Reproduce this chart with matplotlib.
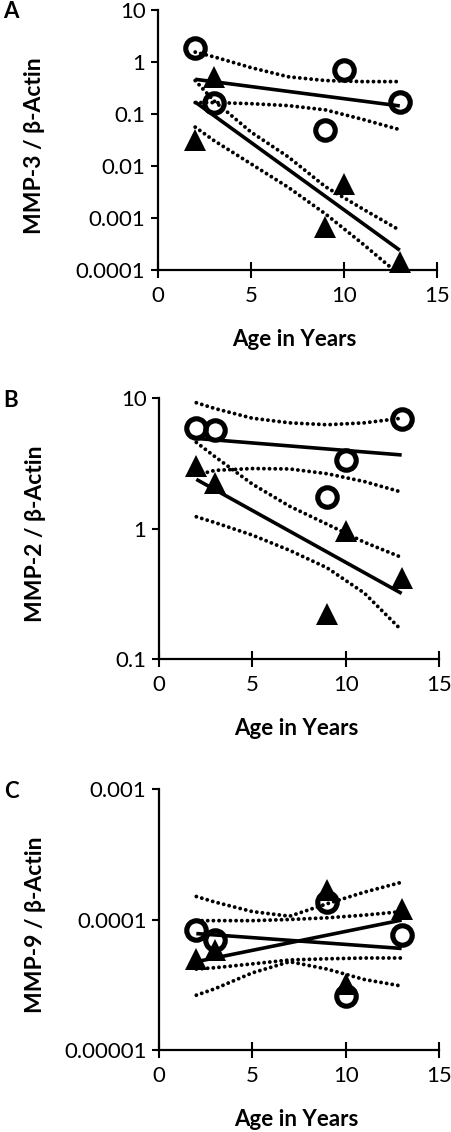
import matplotlib
matplotlib.use('Agg')
import matplotlib.pyplot as plt
import numpy as np

plt.rcParams['font.family'] = ['Lato', 'DejaVu Sans']

# sample ages
age = [2, 3, 9, 10, 13]
band_x = [2, 3, 5, 7, 9, 11, 13]
fit_x = [2, 13]

# ---- panel A : MMP-3
a_circ = [1.83, 0.16, 0.049, 0.70, 0.17]
a_tri = [0.032, 0.51, 0.00068, 0.0045, 0.000144]
a_circ_fit = [0.465, 0.143]
a_tri_fit = [0.17, 0.00024]
a_circ_hi = [1.55, 1.26, 0.78, 0.52, 0.44, 0.42, 0.42]
a_circ_lo = [0.166, 0.166, 0.158, 0.145, 0.12, 0.079, 0.050]
a_tri_hi = [0.44, 0.18, 0.045, 0.015, 0.004, 0.0015, 0.00058]
a_tri_lo = [0.056, 0.031, 0.011, 0.0039, 0.0012, 0.00032, 0.00008]

# ---- panel B : MMP-2
b_circ = [5.9, 5.7, 1.75, 3.35, 6.9]
b_tri = [3.03, 2.22, 0.22, 0.96, 0.42]
b_circ_fit = [4.9, 3.66]
b_tri_fit = [2.38, 0.318]
b_circ_hi = [9.2, 8.3, 7.0, 6.45, 6.24, 6.45, 7.0]
b_circ_lo = [2.57, 2.79, 2.88, 2.86, 2.63, 2.29, 1.9]
b_tri_hi = [4.57, 3.55, 2.19, 1.48, 1.08, 0.785, 0.60]
b_tri_lo = [1.23, 1.11, 0.89, 0.68, 0.50, 0.32, 0.166]

# ---- panel C : MMP-9
c_circ = [8.3e-5, 7.0e-5, 1.37e-4, 2.6e-5, 7.6e-5]
c_tri = [5.0e-5, 5.8e-5, 1.67e-4, 3.2e-5, 1.2e-4]
c_circ_fit = [7.8e-5, 6.0e-5]
c_tri_fit = [4.75e-5, 9.9e-5]
c_circ_hi = [9.8e-5, 9.8e-5, 9.8e-5, 1.0e-4, 1.03e-4, 1.08e-4, 1.15e-4]
c_circ_lo = [4.17e-5, 4.27e-5, 4.57e-5, 4.9e-5, 5.0e-5, 5.07e-5, 5.07e-5]
c_tri_hi = [1.50e-4, 1.36e-4, 1.15e-4, 1.06e-4, 1.32e-4, 1.62e-4, 1.93e-4]
c_tri_lo = [2.63e-5, 2.95e-5, 3.9e-5, 4.75e-5, 4.17e-5, 3.47e-5, 3.09e-5]

x_ticks = [0, 5, 10, 15]
a_yticks = [1e-4, 1e-3, 1e-2, 1e-1, 1, 10]
a_ylabels = ['0.0001', '0.001', '0.01', '0.1', '1', '10']
b_yticks = [0.1, 1, 10]
b_ylabels = ['0.1', '1', '10']
c_yticks = [1e-5, 1e-4, 1e-3]
c_ylabels = ['0.00001', '0.0001', '0.001']

W, H = 451, 1132
fig = plt.figure(figsize=(W / 100, H / 100), dpi=100)

dots = (0, (0.01, 1.45))


def panel(rect, letter, ylabel, yticks, ylabels, circ, tri, cfit, tfit, chi, clo, thi, tlo):
	left, top, right, bottom = rect
	ax = fig.add_axes([left / W, 1 - bottom / H, (right - left) / W, (bottom - top) / H])
	ax.set_yscale('log')
	ax.set_xlim(0, 15)
	ax.set_ylim(yticks[0], yticks[-1])

	for band in (chi, clo, thi, tlo):
		ax.plot(band_x, band, color='black', lw=2.8, linestyle=dots,
				dash_capstyle='round', clip_on=True, zorder=2)
	ax.plot(fit_x, cfit, color='black', lw=2.6, solid_capstyle='butt', zorder=3)
	ax.plot(fit_x, tfit, color='black', lw=2.6, solid_capstyle='butt', zorder=3)

	ax.plot(age, tri, linestyle='none', marker='^', ms=16.5, color='black',
			markeredgewidth=0, clip_on=False, zorder=4)
	ax.plot(age, circ, linestyle='none', marker='o', ms=14, fillstyle='none',
			markeredgecolor='black', markeredgewidth=3.7, clip_on=False, zorder=5)

	ax.set_xticks(x_ticks)
	ax.set_yticks(yticks)
	ax.set_yticklabels(ylabels)
	ax.yaxis.set_minor_locator(matplotlib.ticker.NullLocator())
	ax.tick_params(axis='x', direction='inout', length=11, width=1.5, labelsize=16, pad=6)
	ax.tick_params(axis='y', direction='out', length=5, width=1.5, labelsize=16, pad=4)
	for s in ('top', 'right'):
		ax.spines[s].set_visible(False)
	for s in ('left', 'bottom'):
		ax.spines[s].set_linewidth(1.6)

	ax.set_xlabel('Age in Years', fontsize=16, fontweight='bold')
	ax.xaxis.set_label_coords(0.49, -0.225)
	ax.set_ylabel(ylabel, fontsize=16.5, fontweight='bold')
	ax.yaxis.set_label_coords(-0.405, 0.48)

	fig.text(11 / W, 1 - (top + 2) / H, letter, fontsize=16, fontweight='bold',
			 ha='center', va='center')
	return ax


panel((158, 10, 437, 270), 'A', 'MMP-3 / β-Actin', a_yticks, a_ylabels,
	  a_circ, a_tri, a_circ_fit, a_tri_fit, a_circ_hi, a_circ_lo, a_tri_hi, a_tri_lo)
panel((159, 398, 439, 659), 'B', 'MMP-2 / β-Actin', b_yticks, b_ylabels,
	  b_circ, b_tri, b_circ_fit, b_tri_fit, b_circ_hi, b_circ_lo, b_tri_hi, b_tri_lo)
panel((159, 789, 439, 1050), 'C', 'MMP-9 / β-Actin', c_yticks, c_ylabels,
	  c_circ, c_tri, c_circ_fit, c_tri_fit, c_circ_hi, c_circ_lo, c_tri_hi, c_tri_lo)

fig.savefig('out.png', dpi=100)
